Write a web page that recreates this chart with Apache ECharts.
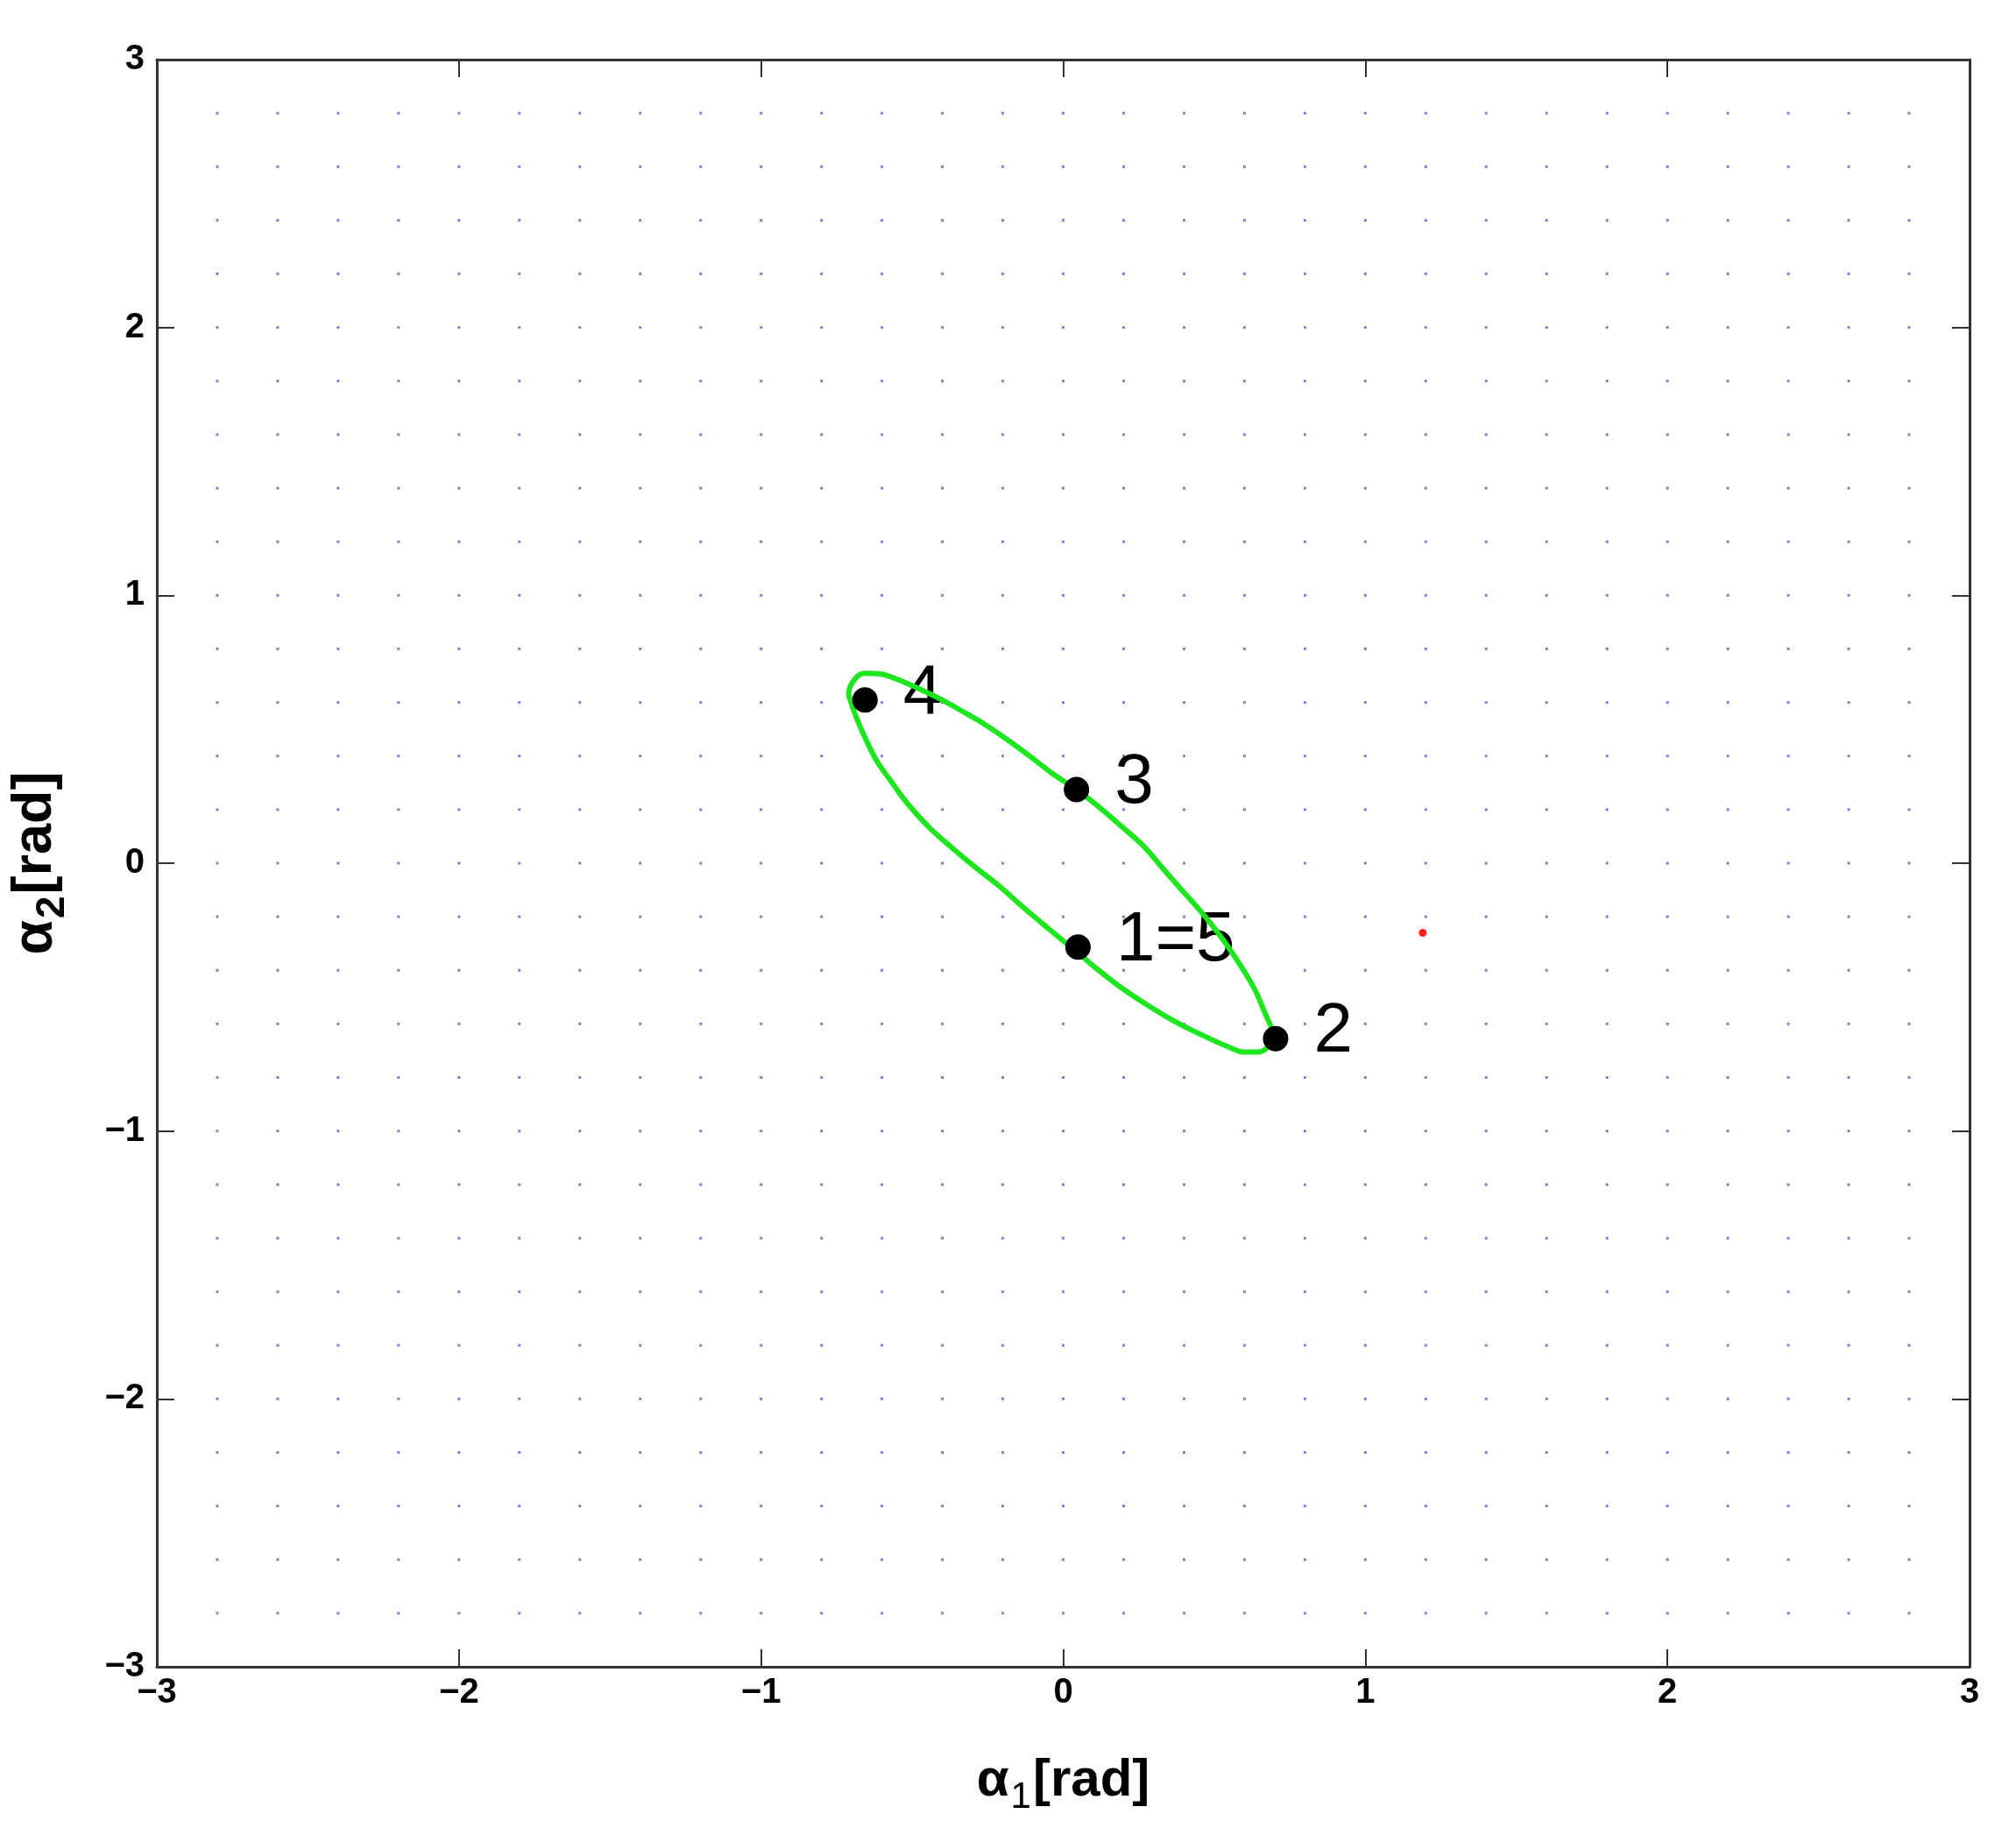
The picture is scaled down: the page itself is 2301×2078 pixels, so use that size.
<!DOCTYPE html>
<html>
<head>
<meta charset="utf-8">
<script src="https://cdn.jsdelivr.net/npm/echarts@6/dist/echarts.min.js"></script>
<style>
  html, body { margin: 0; padding: 0; background: #ffffff; }
  #chart { width: 2301px; height: 2078px; }
</style>
</head>
<body>
<div id="chart"></div>
<script>
// ---- data ----
const axisTicks = [-3, -2, -1, 0, 1, 2, 3];
const tickLabels = ['\u22123', '\u22122', '\u22121', '0', '1', '2', '3'];

// background dot grid positions (both axes)
const gridVals = [-2.8, -2.6, -2.4, -2.2, -2.0, -1.8, -1.6, -1.4, -1.2, -1.0,
  -0.8, -0.6, -0.4, -0.2, 0.0, 0.2, 0.4, 0.6, 0.8, 1.0,
  1.2, 1.4, 1.6, 1.8, 2.0, 2.2, 2.4, 2.6, 2.8];

// green closed trajectory
const loopX = [-0.705, -0.710, -0.690, -0.656, -0.608, -0.550, -0.443, -0.385, -0.326, -0.259,
  -0.181, -0.103, -0.026, 0.044, 0.110, 0.188, 0.265, 0.325, 0.387, 0.454,
  0.493, 0.541, 0.599, 0.638, 0.667, 0.696, 0.700, 0.681, 0.647, 0.599,
  0.541, 0.464, 0.367, 0.271, 0.184, 0.097, 0.049, 0.000, -0.067, -0.135,
  -0.212, -0.289, -0.356, -0.443, -0.520, -0.569, -0.617, -0.656, -0.685, -0.705];
const loopY = [0.611, 0.633, 0.687, 0.709, 0.707, 0.687, 0.633, 0.600, 0.562, 0.518,
  0.458, 0.393, 0.327, 0.275, 0.218, 0.142, 0.065, -0.013, -0.093, -0.178,
  -0.232, -0.304, -0.403, -0.480, -0.557, -0.633, -0.660, -0.683, -0.705, -0.705,
  -0.683, -0.644, -0.589, -0.524, -0.458, -0.381, -0.333, -0.290, -0.227, -0.162,
  -0.085, -0.017, 0.046, 0.133, 0.229, 0.305, 0.382, 0.469, 0.545, 0.611];

// labelled black points
const pointNames = ['1=5', '2', '3', '4'];
const pointX = [0.049, 0.703, 0.044, -0.656];
const pointY = [-0.313, -0.655, 0.275, 0.609];

// red point
const redX = [1.19];
const redY = [-0.26];

// ---- build ----
const dotData = [];
gridVals.forEach(function (gx) { gridVals.forEach(function (gy) { dotData.push([gx, gy]); }); });
const loopData = loopX.map(function (x, i) { return [x, loopY[i]]; });
const pointData = pointX.map(function (x, i) { return { name: pointNames[i], value: [x, pointY[i]] }; });
const redData = redX.map(function (x, i) { return [x, redY[i]]; });

function fmt(v) {
  const i = axisTicks.indexOf(Math.round(v));
  return i >= 0 ? tickLabels[i] : '';
}

const FONT = '"Liberation Sans", Arial, sans-serif';
const frameColor = '#333333';

const baseAxis = {
  type: 'value', min: -3, max: 3, interval: 1,
  axisLine: { show: true, onZero: false, lineStyle: { color: frameColor, width: 3 } },
  axisTick: { show: true, inside: true, length: 20, lineStyle: { color: frameColor, width: 2 } },
  splitLine: { show: false }
};

const chart = echarts.init(document.getElementById('chart'), null, { renderer: 'canvas' });
chart.setOption({
  backgroundColor: '#ffffff',
  animation: false,
  grid: { left: 179, right: 53, top: 68, bottom: 176, containLabel: false, outerBoundsMode: 'none' },
  xAxis: [
    Object.assign({}, baseAxis, {
      position: 'bottom',
      axisLabel: { show: true, formatter: fmt, fontFamily: FONT, fontSize: 40, fontWeight: 'bold', color: '#000', margin: 10 },
      name: '{a|\u03b1}{s|1}{b|[rad]}',
      nameLocation: 'middle',
      nameGap: 90,
      nameTextStyle: {
        fontFamily: FONT, color: '#000',
        rich: {
          a: { fontFamily: FONT, fontSize: 60, fontWeight: 'bold', color: '#000' },
          s: { fontFamily: FONT, fontSize: 42, color: '#000', padding: [38, 2, 0, 2] },
          b: { fontFamily: FONT, fontSize: 60, fontWeight: 'bold', color: '#000' }
        }
      }
    }),
    Object.assign({}, baseAxis, {
      position: 'top',
      axisLabel: { show: false }
    })
  ],
  yAxis: [
    Object.assign({}, baseAxis, {
      position: 'left',
      axisLabel: { show: true, formatter: fmt, fontFamily: FONT, fontSize: 40, fontWeight: 'bold', color: '#000', margin: 14 },
      name: '{a|\u03b1}{s|2}{b|[rad]}',
      nameLocation: 'middle',
      nameGap: 96,
      nameRotate: 90,
      nameTextStyle: {
        fontFamily: FONT, color: '#000',
        rich: {
          a: { fontFamily: FONT, fontSize: 64, fontWeight: 'bold', color: '#000' },
          s: { fontFamily: FONT, fontSize: 46, fontWeight: 'bold', color: '#000', padding: [38, 2, 0, 2] },
          b: { fontFamily: FONT, fontSize: 63, fontWeight: 'bold', color: '#000' }
        }
      }
    }),
    Object.assign({}, baseAxis, {
      position: 'right',
      axisLabel: { show: false }
    })
  ],
  series: [
    {
      type: 'scatter', name: 'grid', data: dotData, xAxisIndex: 0, yAxisIndex: 0,
      symbol: 'rect', symbolSize: 3, itemStyle: { color: '#7f7fcc', opacity: 1 }, silent: true, z: 1
    },
    {
      type: 'scatter', name: 'labels', data: pointData, xAxisIndex: 0, yAxisIndex: 0,
      symbol: 'circle', symbolSize: 29, itemStyle: { color: 'rgba(0,0,0,0)', opacity: 1 }, z: 2,
      label: {
        show: true, position: 'right', distance: 29, offset: [0, -7],
        formatter: function (p) { return p.name; },
        fontFamily: FONT, fontSize: 80, color: '#000', opacity: 1
      }
    },
    {
      type: 'line', name: 'loop', data: loopData, xAxisIndex: 0, yAxisIndex: 0,
      showSymbol: false, symbol: 'none', smooth: 0.4,
      lineStyle: { color: '#1ee61e', width: 6, opacity: 1 }, z: 3
    },
    {
      type: 'scatter', name: 'points', data: pointData, xAxisIndex: 0, yAxisIndex: 0,
      symbol: 'circle', symbolSize: 29, itemStyle: { color: '#000', opacity: 1 }, z: 4
    },
    {
      type: 'scatter', name: 'red', data: redData, xAxisIndex: 0, yAxisIndex: 0,
      symbol: 'circle', symbolSize: 9, itemStyle: { color: '#ff2020', opacity: 1 }, z: 4
    }
  ]
});
</script>
</body>
</html>
